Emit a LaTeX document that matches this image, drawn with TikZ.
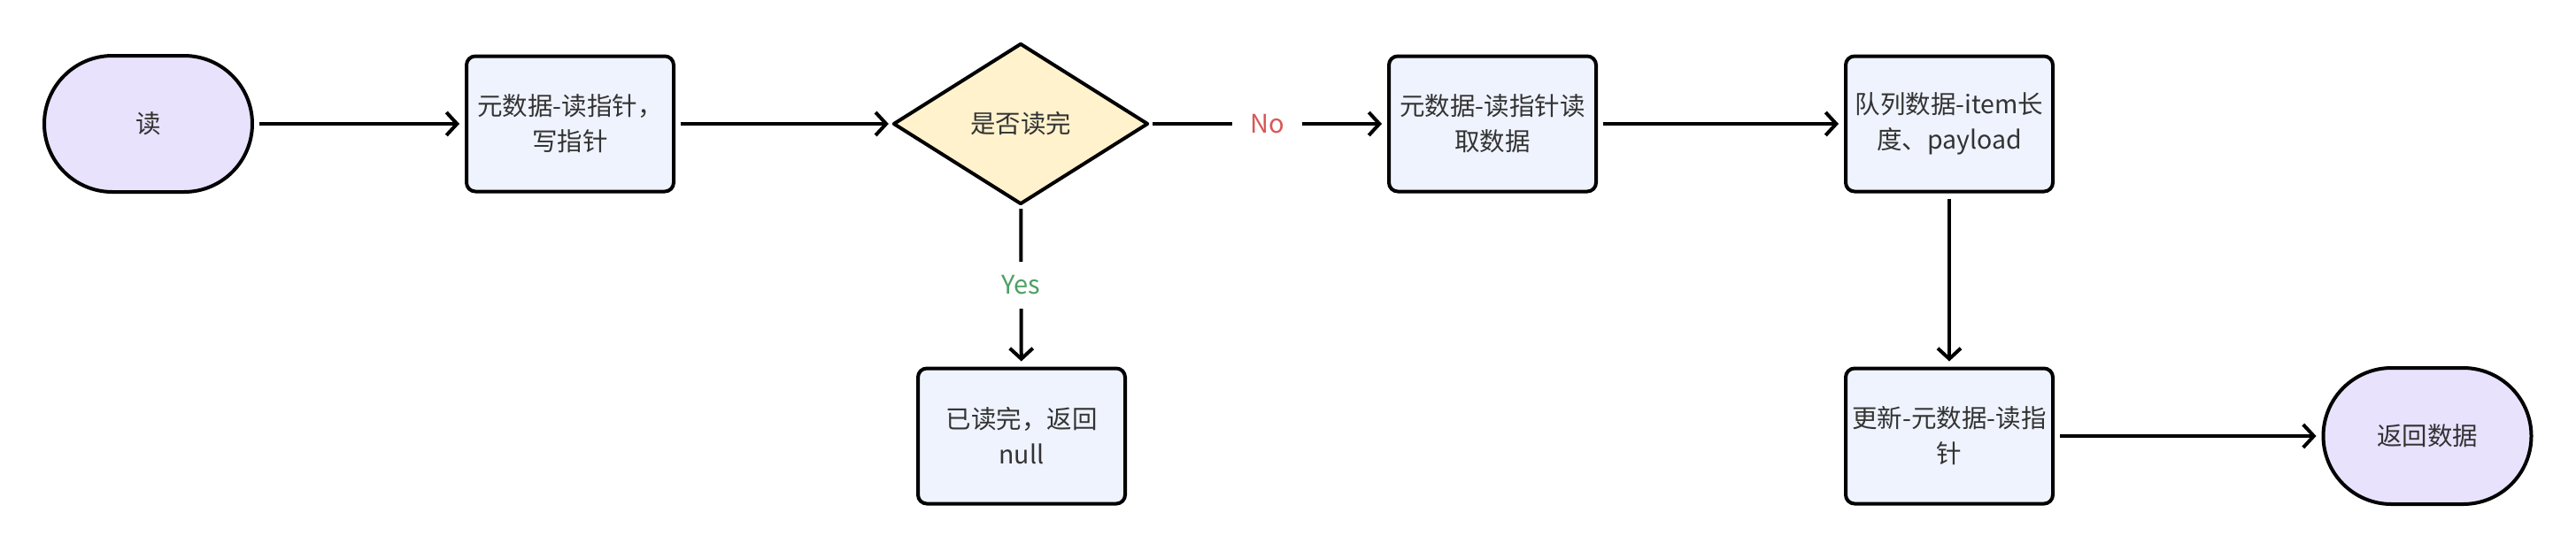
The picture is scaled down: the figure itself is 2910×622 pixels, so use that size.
\documentclass[tikz,border=0pt]{standalone}
\usepackage{fontspec}
\setmainfont{Noto Sans CJK SC}
\usetikzlibrary{arrows.meta,shapes.geometric}
\definecolor{termfill}{HTML}{E8E2FD}
\definecolor{boxfill}{HTML}{EFF3FD}
\definecolor{decfill}{HTML}{FFF2CC}
\definecolor{txt}{HTML}{333333}
\definecolor{nored}{HTML}{D95757}
\definecolor{yesgreen}{HTML}{4CA064}
\tikzset{
  base/.style={draw=black, line width=4pt, inner sep=0pt, align=center,
    text=txt, font=\fontsize{28.5pt}{40pt}\selectfont},
  term/.style={base, fill=termfill, rectangle, rounded corners=77pt,
    minimum width=235pt, minimum height=154pt},
  procbox/.style={base, fill=boxfill, rectangle, rounded corners=10pt,
    minimum width=234pt, minimum height=153pt},
  decision/.style={inner sep=0pt, rectangle, text=txt,
    font=\fontsize{28.5pt}{40pt}\selectfont,
    minimum width=286pt, minimum height=180pt},
  decshape/.style={draw=black, fill=decfill, line width=4pt, line join=round},
  conn/.style={line width=4pt, -{Straight Barb[length=12pt,width=26pt,line width=4pt]},
    shorten >=6pt, shorten <=6pt},
  lbl/.style={fill=white, inner xsep=20pt, inner ysep=16pt,
    font=\fontsize{29pt}{32pt}\selectfont}
}
\begin{document}
\begin{tikzpicture}[x=1pt,y=-1pt]
\useasboundingbox (0,0) rectangle (2910,622);
\node[term] (start) at (167.5,140) {读};
\node[procbox] (b1) at (644,140) {元数据-读指针，\\写指针};
\node[decision] (dec) at (1153,140) {};
\draw[decshape] (dec.north) -- (dec.east) -- (dec.south) -- (dec.west) -- cycle;
\node[decision] at (dec.center) {是否读完};
\node[procbox] (b2) at (1686,140) {元数据-读指针读\\取数据};
\node[procbox] (b3) at (2202,140) {队列数据-item长\\度、payload};
\node[procbox] (b4) at (2202,493) {更新-元数据-读指\\针};
\node[term] (end) at (2742,493) {返回数据};
\node[procbox] (b5) at (1154,493) {已读完，返回\\null};

\draw[conn] (start) -- (b1);
\draw[conn] (b1) -- (dec);
\draw[conn] (dec) -- node[lbl, text=nored] {No} (b2);
\draw[conn] (dec) -- node[lbl, text=yesgreen] {Yes} (b5);
\draw[conn] (b2) -- (b3);
\draw[conn] (b3) -- (b4);
\draw[conn] (b4) -- (end);
\end{tikzpicture}
\end{document}
